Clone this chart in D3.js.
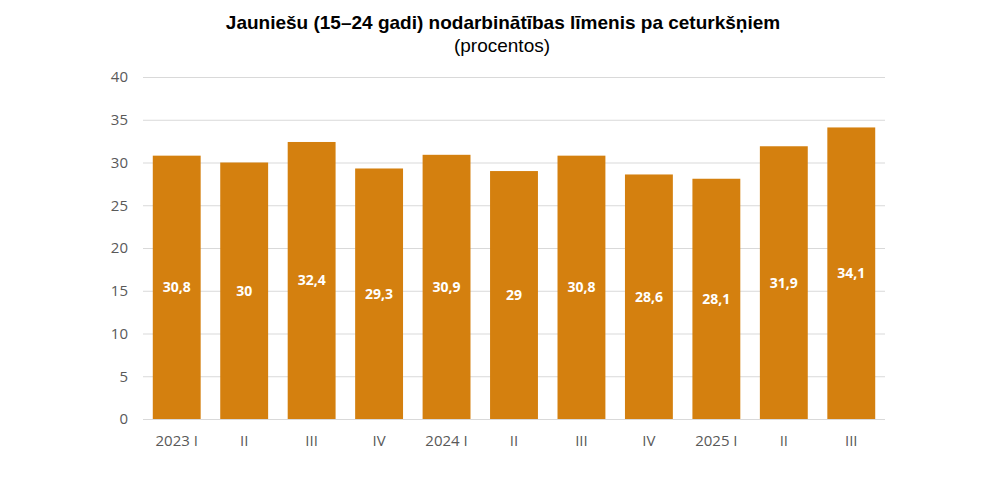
<!DOCTYPE html>
<html><head><meta charset="utf-8">
<script src="https://cdn.jsdelivr.net/npm/d3@7"></script>
<style>body{margin:0;background:#fff;} svg{display:block;}</style>
</head><body>
<svg id="c" width="1000" height="483"></svg>
<script>
const categories = ["2023 I","II","III","IV","2024 I","II","III","IV","2025 I","II","III"];
const values = [30.8, 30, 32.4, 29.3, 30.9, 29, 30.8, 28.6, 28.1, 31.9, 34.1];
const yTicks = [0,5,10,15,20,25,30,35,40];
const title = "Jauniešu (15–24 gadi) nodarbinātības līmenis pa ceturkšņiem";
const subtitle = "(procentos)";

const svg = d3.select("#c");
const m = {l:143, r:885, t:77, b:419};
const idx = categories.map((c,i)=>i);
const x = d3.scaleBand().domain(idx).range([m.l, m.r]).paddingInner(0.29).paddingOuter(0.145);
const y = d3.scaleLinear().domain([0,40]).range([m.b, m.t]);

svg.append("text").attr("x",503).attr("y",29).attr("text-anchor","middle")
  .attr("font-family","Liberation Sans, Arial").attr("font-weight","bold").attr("font-size",19).attr("fill","#000").text(title);
svg.append("text").attr("x",502).attr("y",52).attr("text-anchor","middle")
  .attr("font-family","Liberation Sans, Arial").attr("font-size",19).attr("fill","#000").text(subtitle);

const yAxis = d3.axisLeft(y).tickValues(yTicks).tickSize(-(m.r-m.l)).tickFormat(d3.format("d"));
const gy = svg.append("g").attr("transform",`translate(${m.l},0)`).call(yAxis);
gy.select(".domain").remove();
gy.selectAll(".tick line").attr("stroke","#d9d9d9").attr("stroke-width",1);
gy.selectAll(".tick text").attr("x",-15).attr("fill","#595959").attr("font-size",15).attr("font-family","Open Sans, Liberation Sans");

svg.append("g").selectAll("rect").data(values).join("rect")
  .attr("x",(d,i)=>x(i)).attr("width",x.bandwidth())
  .attr("y",d=>y(d)).attr("height",d=>y(0)-y(d))
  .attr("fill","#D4800F");

svg.append("line").attr("x1",m.l).attr("x2",m.r).attr("y1",y(0)+0.5).attr("y2",y(0)+0.5).attr("stroke","#d9d9d9");

const xAxis = d3.axisBottom(x).tickSize(0).tickFormat(i=>categories[i]);
const gx = svg.append("g").attr("transform",`translate(0,${m.b})`).call(xAxis);
gx.select(".domain").remove();
gx.selectAll(".tick text").attr("dy",0).attr("y",27).attr("fill","#595959").attr("font-size",15).attr("font-family","Open Sans, Liberation Sans");

svg.append("g").selectAll("text").data(values).join("text")
  .attr("x",(d,i)=>x(i)+x.bandwidth()/2)
  .attr("y",d=>y(d/2)+5).attr("text-anchor","middle")
  .attr("fill","#fff").attr("font-weight","bold").attr("font-size",14).attr("font-family","Open Sans, Liberation Sans")
  .text(d=>String(d).replace(".",","));
</script>
</body></html>
